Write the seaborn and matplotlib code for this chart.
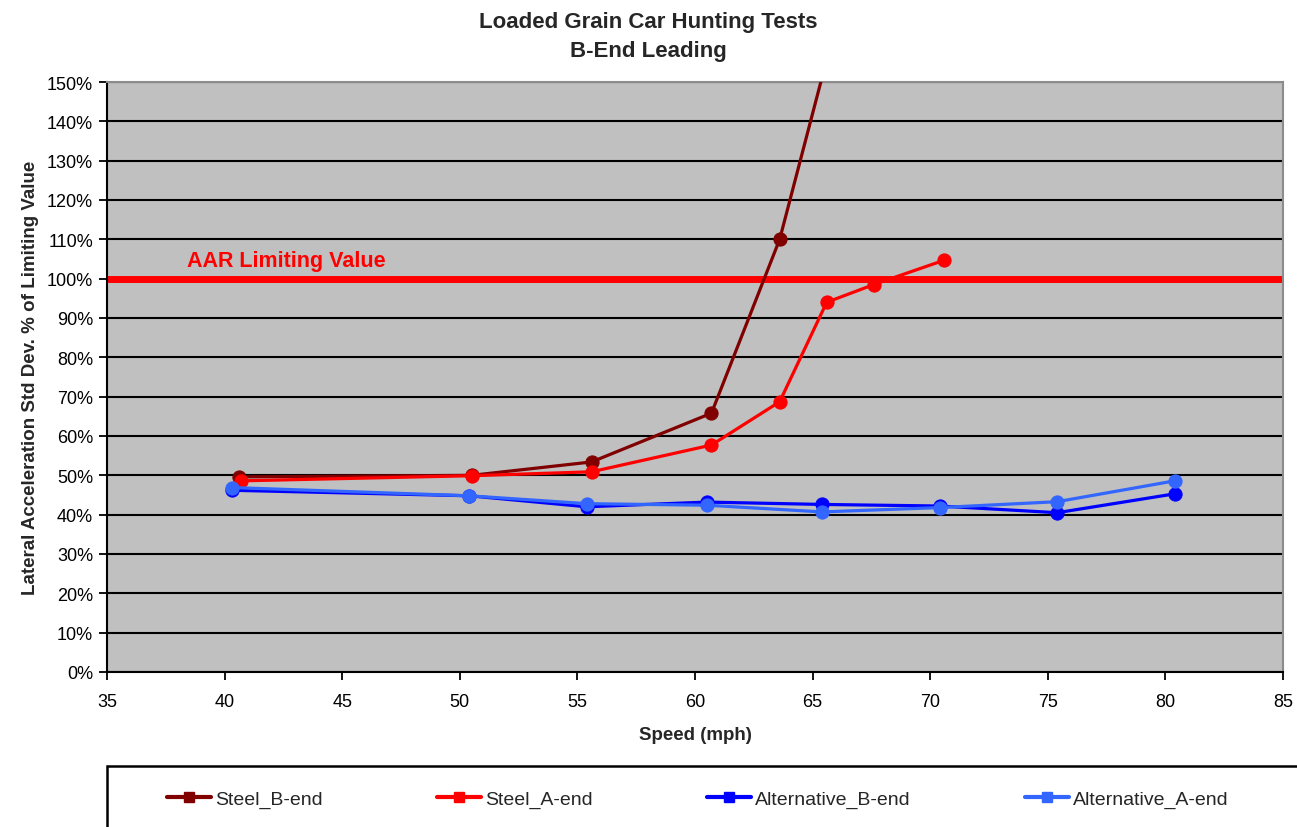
import pandas as pd
import matplotlib.pyplot as plt
import matplotlib.ticker as mticker
from matplotlib.lines import Line2D
from matplotlib.patches import Rectangle
import seaborn as sns

sns.set_style("ticks")
plt.rcParams['font.family'] = ['Liberation Sans', 'DejaVu Sans']

# data (speed in mph, value in % of limiting value)
steel_b_speed = [40.6, 50.5, 55.6, 60.7, 63.6, 65.7]
steel_b_value = [49.6, 50.0, 53.4, 65.8, 110.0, 158.0]
steel_a_speed = [40.7, 50.5, 55.6, 60.7, 63.6, 65.6, 67.6, 70.6]
steel_a_value = [48.6, 49.9, 50.9, 57.7, 68.7, 94.0, 98.5, 104.7]
alt_speed = [40.3, 50.4, 55.4, 60.5, 65.4, 70.4, 75.4, 80.4]
alt_b_value = [46.2, 44.8, 42.0, 43.2, 42.6, 42.2, 40.5, 45.3]
alt_a_value = [46.9, 44.8, 42.8, 42.4, 40.7, 41.8, 43.3, 48.6]
aar_limit = 100

series_names = ["Steel_B-end", "Steel_A-end", "Alternative_B-end", "Alternative_A-end"]
series_colors = ["#800000", "#FF0000", "#0000FF", "#3366FF"]

frames = [
    pd.DataFrame({"speed": steel_b_speed, "value": steel_b_value, "series": series_names[0]}),
    pd.DataFrame({"speed": steel_a_speed, "value": steel_a_value, "series": series_names[1]}),
    pd.DataFrame({"speed": alt_speed, "value": alt_b_value, "series": series_names[2]}),
    pd.DataFrame({"speed": alt_speed, "value": alt_a_value, "series": series_names[3]}),
]

fig = plt.figure(figsize=(12.97, 8.28), dpi=100)
ax = fig.add_axes([107 / 1297, 1 - 673 / 828, (1283 - 107) / 1297, (673 - 83) / 828])
ax.set_facecolor("#C0C0C0")

# AAR limit line
ax.axhline(aar_limit, color="#FF0000", linewidth=5.0, zorder=2)
ax.text(38.4, 103.2, "AAR Limiting Value", color="#FF0000", fontsize=15.5,
        fontweight="bold", zorder=3)

for df, color in zip(frames, series_colors):
    sns.lineplot(data=df, x="speed", y="value", ax=ax, color=color, sort=False,
                 linewidth=2.3, marker="o", markersize=9.5, markeredgecolor=color,
                 legend=False, zorder=4)

ax.set_xlim(35, 85)
ax.set_ylim(0, 150)
ax.xaxis.set_major_locator(mticker.MultipleLocator(5))
ax.yaxis.set_major_locator(mticker.MultipleLocator(10))
ax.yaxis.set_major_formatter(mticker.PercentFormatter(decimals=0))
ax.tick_params(axis="both", direction="out", length=6, width=1.3, labelsize=13,
               colors="black")
ax.tick_params(axis="x", pad=9)
ax.tick_params(axis="y", pad=4)

ax.grid(axis="y", color="black", linewidth=1.5, zorder=1)
ax.grid(axis="x", visible=False)
ax.set_axisbelow(True)
ax.yaxis.get_gridlines()[-1].set_visible(False)

for side in ["left", "bottom"]:
    ax.spines[side].set_color("black")
    ax.spines[side].set_linewidth(1.5)
for side in ["top", "right"]:
    ax.spines[side].set_color("#8C8C8C")
    ax.spines[side].set_linewidth(1.5)

ax.set_xlabel("Speed (mph)", fontsize=13.5, fontweight="bold", labelpad=12)
ax.set_ylabel("Lateral Acceleration Std Dev. % of Limiting Value", fontsize=13.5,
              fontweight="bold", labelpad=6)

fig.suptitle("Loaded Grain Car Hunting Tests\nB-End Leading", x=0.5, y=0.986,
             fontsize=16, fontweight="bold", linespacing=1.5)

# legend box running off the bottom/right edge, like the source
fig.patches.append(Rectangle((107 / 1297, -0.1), 1.2, 0.1 + (828 - 767) / 828,
                             transform=fig.transFigure, facecolor="white",
                             edgecolor="black", linewidth=1.8))
handles = [Line2D([], [], color=c, linewidth=3, marker="s", markersize=7)
           for c in series_colors]
fig.legend(handles, series_names, loc="center left",
           bbox_to_anchor=(157 / 1297, 28 / 828), ncol=4, frameon=False,
           fontsize=14, handlelength=2.3, handletextpad=0.2, columnspacing=5.85,
           borderpad=0)

fig.savefig("out.png", dpi=100)
